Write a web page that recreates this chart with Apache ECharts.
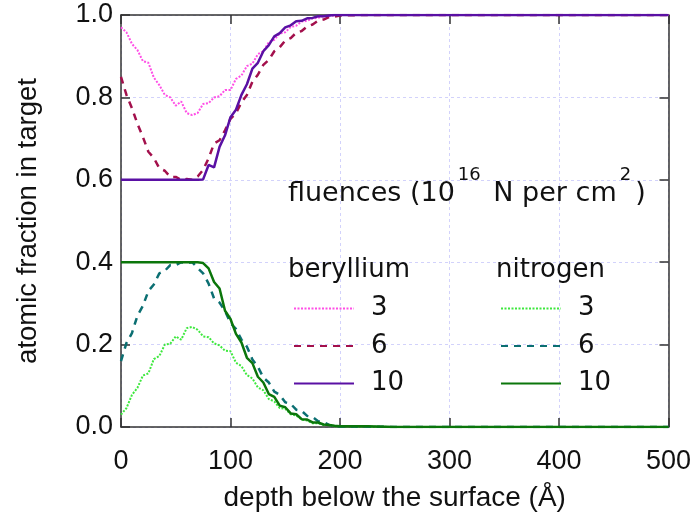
<!DOCTYPE html>
<html>
<head>
<meta charset="utf-8">
<script src="https://cdn.jsdelivr.net/npm/echarts@6/dist/echarts.min.js"></script>
<style>
html,body{margin:0;padding:0;background:#fff;}
#chart{width:694px;height:524px;}
</style>
</head>
<body>
<div id="chart"></div>
<script>
var depth = [0,5,10,15,20,25,30,35,40,45,50,55,60,65,70,75,80,85,90,95,100,105,110,115,120,125,130,135,140,145,150,155,160,165,170,175,180,185,190,195,200,225,250,275,300,325,350,375,400,425,450,475,500];

var be3 = [0.970,0.958,0.930,0.915,0.888,0.884,0.848,0.830,0.806,0.800,0.780,0.790,0.762,0.757,0.762,0.784,0.786,0.800,0.803,0.818,0.818,0.845,0.853,0.876,0.882,0.905,0.912,0.934,0.940,0.955,0.958,0.971,0.974,0.984,0.986,0.992,0.993,0.997,0.997,0.999,1.000,1.000,1.000,1.000,1.000,1.000,1.000,1.000,1.000,1.000,1.000,1.000,1.000];
var be6 = [0.850,0.806,0.774,0.736,0.704,0.668,0.653,0.628,0.622,0.607,0.607,0.600,0.602,0.600,0.608,0.624,0.652,0.688,0.696,0.720,0.748,0.762,0.788,0.806,0.838,0.855,0.879,0.891,0.912,0.922,0.938,0.944,0.957,0.961,0.972,0.977,0.986,0.989,0.995,0.996,0.999,1.000,1.000,1.000,1.000,1.000,1.000,1.000,1.000,1.000,1.000,1.000,1.000];
var be10 = [0.600,0.600,0.600,0.600,0.600,0.600,0.600,0.600,0.600,0.600,0.600,0.600,0.600,0.600,0.600,0.601,0.636,0.630,0.680,0.708,0.752,0.770,0.806,0.832,0.870,0.884,0.912,0.927,0.948,0.956,0.970,0.975,0.985,0.986,0.992,0.993,0.997,0.997,0.999,1.000,1.000,1.000,1.000,1.000,1.000,1.000,1.000,1.000,1.000,1.000,1.000,1.000,1.000];

var n3 = [0.030,0.046,0.078,0.095,0.125,0.130,0.165,0.172,0.200,0.202,0.220,0.212,0.240,0.243,0.236,0.220,0.218,0.203,0.198,0.185,0.184,0.156,0.148,0.126,0.118,0.096,0.089,0.068,0.062,0.046,0.044,0.031,0.028,0.018,0.016,0.009,0.009,0.005,0.005,0.002,0.002,0.001,0.000,0.000,0.000,0.000,0.000,0.000,0.000,0.000,0.000,0.000,0.000];
var n6 = [0.160,0.204,0.228,0.270,0.294,0.330,0.346,0.373,0.379,0.393,0.393,0.400,0.398,0.400,0.386,0.373,0.348,0.312,0.302,0.282,0.252,0.238,0.212,0.195,0.164,0.146,0.120,0.108,0.086,0.078,0.060,0.056,0.042,0.039,0.027,0.024,0.014,0.012,0.005,0.004,0.001,0.001,0.000,0.000,0.000,0.000,0.000,0.000,0.000,0.000,0.000,0.000,0.000];
var n10 = [0.400,0.400,0.400,0.400,0.400,0.400,0.400,0.400,0.400,0.400,0.400,0.400,0.400,0.400,0.400,0.398,0.385,0.352,0.336,0.282,0.262,0.226,0.205,0.168,0.155,0.122,0.108,0.080,0.073,0.052,0.048,0.033,0.031,0.019,0.018,0.011,0.011,0.006,0.005,0.003,0.002,0.002,0.000,0.000,0.000,0.000,0.000,0.000,0.000,0.000,0.000,0.000,0.000];

var xTicks = [0,100,200,300,400,500];
var yTicks = [0.0,0.2,0.4,0.6,0.8,1.0];

var seriesNames = ['Be 3','Be 6','Be 10','N 3','N 6','N 10'];
var seriesData = [be3, be6, be10, n3, n6, n10];
var seriesColors = ['#ff4fe6','#a3104c','#5a10a4','#3ee83e','#0b6f72','#0b760b'];
var seriesDash = [[2,1.5],[7,6],'solid',[2,1.5],[7,6],'solid'];
var seriesWidth = [2,2.5,2.5,2,2.5,2.5];

function pairs(arr){ return depth.map(function(d,i){ return [d, arr[i]]; }); }

var axisFont = 'Liberation Sans, Arial, sans-serif';
var legendFont = 'DejaVu Sans, sans-serif';
var axisLineStyle = {color:'#333', width:1.5};

var series = seriesNames.map(function(n,i){
  return {
    name: n, type: 'line', data: pairs(seriesData[i]),
    symbol: 'none', showSymbol: false, smooth: false,
    xAxisIndex: 0, yAxisIndex: 0,
    lineStyle: {color: seriesColors[i], width: seriesWidth[i], type: seriesDash[i]},
    itemStyle: {color: seriesColors[i]},
    z: 3 + i
  };
});

var chart = echarts.init(document.getElementById('chart'), null, {renderer:'canvas'});
var legendCommon = {
  orient: 'vertical', itemWidth: 60, itemHeight: 26, itemGap: 11.5, padding: 0,
  selectedMode: false,
  itemStyle: {opacity: 0, borderWidth: 0},
  textStyle: {fontSize: 26, fontFamily: legendFont, color: '#111', padding: [0,0,0,12]},
  formatter: function(name){ return name.split(' ')[1]; }
};
chart.setOption({
  animation: false,
  backgroundColor: '#fff',
  grid: {left: 121, right: 23, top: 15, bottom: 97, containLabel: false},
  xAxis: [{
    type: 'value', min: 0, max: 500, interval: 100, position: 'bottom',
    name: 'depth below the surface (Å)', nameLocation: 'middle', nameGap: 57,
    nameTextStyle: {fontSize: 28, fontFamily: axisFont, color: '#111'},
    axisLine: {show: true, onZero: false, lineStyle: axisLineStyle},
    axisTick: {show: true, inside: true, length: 9, lineStyle: axisLineStyle},
    axisLabel: {fontSize: 27, fontFamily: axisFont, color: '#111', margin: 21,
      formatter: function(v){ return xTicks.indexOf(v) >= 0 ? String(v) : ''; }},
    splitLine: {show: true, lineStyle: {color: '#d2d2fb', width: 1, type: [3,3]}}
  },{
    type: 'value', min: 0, max: 500, interval: 100, position: 'top',
    axisLine: {show: true, onZero: false, lineStyle: axisLineStyle},
    axisTick: {show: true, inside: true, length: 9, lineStyle: axisLineStyle},
    axisLabel: {show: false}, splitLine: {show: false}
  }],
  yAxis: [{
    type: 'value', min: 0, max: 1, interval: 0.2, position: 'left',
    name: 'atomic fraction in target', nameLocation: 'middle', nameGap: 79,
    nameTextStyle: {fontSize: 27.5, fontFamily: axisFont, color: '#111'},
    axisLine: {show: true, onZero: false, lineStyle: axisLineStyle},
    axisTick: {show: true, inside: true, length: 9, lineStyle: axisLineStyle},
    axisLabel: {fontSize: 27, fontFamily: axisFont, color: '#111', margin: 8,
      formatter: function(v){ return v.toFixed(1); }},
    splitLine: {show: true, lineStyle: {color: '#d2d2fb', width: 1, type: [3,3]}}
  },{
    type: 'value', min: 0, max: 1, interval: 0.2, position: 'right',
    axisLine: {show: true, onZero: false, lineStyle: axisLineStyle},
    axisTick: {show: true, inside: true, length: 9, lineStyle: axisLineStyle},
    axisLabel: {show: false}, splitLine: {show: false}
  }],
  legend: [
    Object.assign({}, legendCommon, {data: ['Be 3','Be 6','Be 10'], left: 293, top: 295.5}),
    Object.assign({}, legendCommon, {data: ['N 3','N 6','N 10'], left: 500, top: 295.5})
  ],
  graphic: [
    {type: 'text', left: 288, top: 166, z: 100, style: {
      text: '{a|fluences (10}{s|16}{a| N per cm}{s|2}{a|)}',
      rich: {
        a: {fontSize: 27, fontFamily: legendFont, fill: '#111', color: '#111', lineHeight: 41, verticalAlign: 'bottom'},
        s: {fontSize: 18, fontFamily: legendFont, fill: '#111', color: '#111', lineHeight: 18, verticalAlign: 'top', padding: [0,4,0,3]}
      }
    }},
    {type: 'text', left: 288, top: 257, z: 100, style: {text: 'beryllium', font: '26px DejaVu Sans', fill: '#111'}},
    {type: 'text', left: 496, top: 257, z: 100, style: {text: 'nitrogen', font: '26px DejaVu Sans', fill: '#111'}}
  ],
  series: series
});
</script>
</body>
</html>
